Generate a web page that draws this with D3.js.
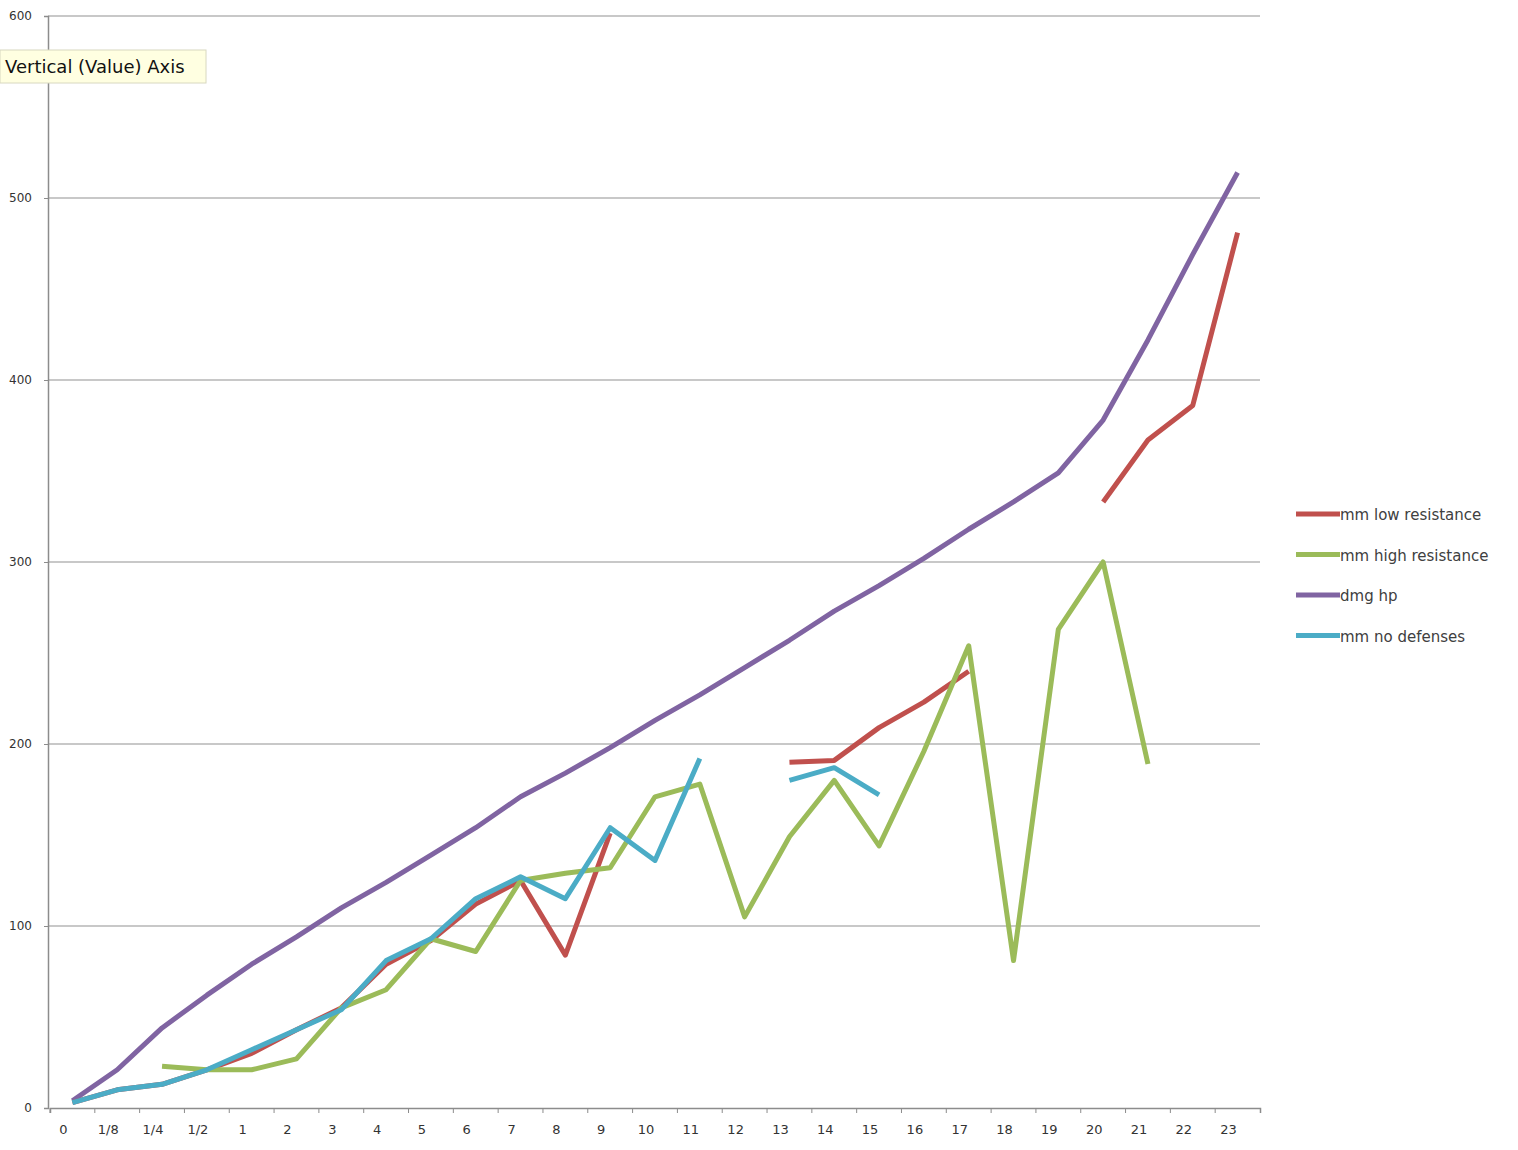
<!DOCTYPE html>
<html><head><meta charset="utf-8">
<script src="https://cdn.jsdelivr.net/npm/d3@7"></script>
<style>body{margin:0;background:#fff}text{font-family:"DejaVu Sans",sans-serif}</style>
</head><body><svg id="svg" width="1518" height="1150"></svg>
<script>
var categories = ["0","1/8","1/4","1/2","1","2","3","4","5","6","7","8","9","10","11","12","13","14","15","16","17","18","19","20","21","22","23"];
var yTicks = [0,100,200,300,400,500,600];
var N = null;
var mmLow  = [3,10,13,21,30,43,55,79,92,112,125,84,151,N,N,N,190,191,209,223,240,N,N,333,367,386,481];
var mmHigh = [N,N,23,21,21,27,55,65,93,86,125,129,132,171,178,105,149,180,144,196,254,81,263,300,189,N,N];
var dmgHp  = [4,21,44,62,79,94,110,124,139,154,171,184,198,213,227,242,257,273,287,302,318,333,349,378,422,469,514];
var mmNone = [3,10,13,21,32,43,54,81,93,115,127,115,154,136,192,N,180,187,172,N,N,N,N,N,N,N,N];

var seriesNames = ["mm low resistance","mm high resistance","dmg hp","mm no defenses"];
var seriesData = [mmLow, mmHigh, dmgHp, mmNone];
var colors = ["#C0504D","#9BBB59","#8064A2","#4BACC6"];

var svg = d3.select("svg");
var x = d3.scaleBand().domain(categories).range([50, 1260]);
var y = d3.scaleLinear().domain([0, 600]).range([1108, 16]);

// grid
svg.selectAll(".grid").data(yTicks.slice(1)).enter().append("line")
    .attr("x1", 48).attr("x2", 1260)
    .attr("y1", d => y(d)).attr("y2", d => y(d))
    .attr("stroke", "#c8c8c8").attr("stroke-width", 2)

// y axis
var ya = svg.append("g").attr("transform", "translate(48,0)")
    .call(d3.axisLeft(y).tickValues(yTicks).tickSize(4).tickPadding(12))
ya.select(".domain").attr("stroke", "#8c8c8c").attr("stroke-width", 1.5)
ya.selectAll(".tick line").attr("stroke", "#8c8c8c")
ya.selectAll("text").attr("font-size", "12px").attr("fill", "#333").attr("font-family", "DejaVu Sans")

// x axis
var xa = svg.append("g").attr("transform", "translate(0,1108)")
    .call(d3.axisBottom(x).tickSize(5).tickPadding(12))
xa.select(".domain").attr("stroke", "#8c8c8c").attr("stroke-width", 1.5)
xa.selectAll(".tick line").attr("stroke", "#8c8c8c").attr("x1", -x.bandwidth() / 2).attr("x2", -x.bandwidth() / 2)
xa.selectAll("text").attr("font-size", "13px").attr("fill", "#333").attr("dx", -9).attr("font-family", "DejaVu Sans")

var line = d3.line()
    .defined(d => d != null)
    .x((d, i) => x(categories[i]) + x.bandwidth() / 2)
    .y(d => y(d))

var order = [2, 0, 1, 3];
order.forEach(function (s) {
    svg.append("path")
        .datum(seriesData[s])
        .attr("d", line)
        .attr("fill", "none")
        .attr("stroke", colors[s])
        .attr("stroke-width", 5)
        .attr("stroke-linejoin", "round")
});

// legend
var lg = svg.selectAll(".leg").data(seriesNames).enter().append("g")
    .attr("transform", (d, i) => "translate(1296," + (514 + i * 40.5) + ")")
lg.append("line").attr("x1", 0).attr("x2", 44).attr("stroke", (d, i) => colors[i]).attr("stroke-width", 5)
lg.append("text").attr("x", 44).attr("y", 6).text(d => d)
    .attr("font-size", "15px").attr("fill", "#404040")

// tooltip
var tip = svg.append("g").attr("transform", "translate(0,50)")
tip.append("rect").attr("width", 206).attr("height", 33).attr("fill", "#FFFFE1").attr("stroke", "#d8d8c0")
tip.append("text").attr("x", 5).attr("y", 23).text("Vertical (Value) Axis")
    .attr("font-size", "18px").attr("fill", "#111")
</script></body></html>
